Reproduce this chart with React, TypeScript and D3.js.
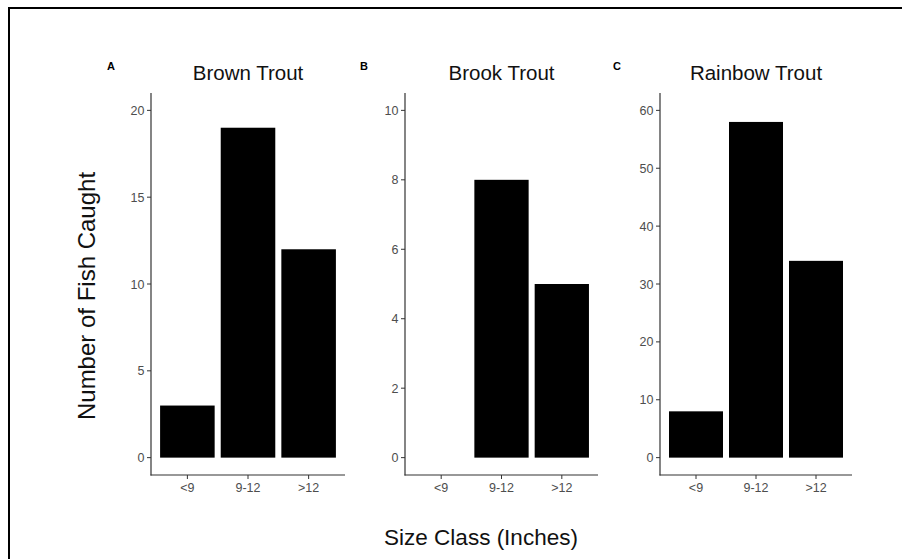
import React from "react";
import * as d3 from "d3";

// Size classes shared by every panel
const sizeClasses = ["<9", "9-12", ">12"];

// Catch counts per species, in size-class order
const brownCounts = [3, 19, 12];
const brookCounts = [0, 8, 5];
const rainbowCounts = [8, 58, 34];

// Y tick values per species
const brownTicks = [0, 5, 10, 15, 20];
const brookTicks = [0, 2, 4, 6, 8, 10];
const rainbowTicks = [0, 10, 20, 30, 40, 50, 60];

// Y limits (before ggplot-style 5% expansion)
const brownLimit = 20;
const brookLimit = 10;
const rainbowLimit = 60;

const panels = [
  { tag: "A", title: "Brown Trout", counts: brownCounts, ticks: brownTicks, limit: brownLimit, left: 151, right: 345, tagX: 107 },
  { tag: "B", title: "Brook Trout", counts: brookCounts, ticks: brookTicks, limit: brookLimit, left: 405, right: 598, tagX: 360 },
  { tag: "C", title: "Rainbow Trout", counts: rainbowCounts, ticks: rainbowTicks, limit: rainbowLimit, left: 660, right: 852, tagX: 613 },
];

const W = 902;
const H = 559;
const plotTop = 93;
const plotBottom = 475;
const font = "'Liberation Sans', Arial, Helvetica, sans-serif";
const tickColor = "#4d4d4d";
const axisColor = "#333333";

function Panel({ p }: { p: (typeof panels)[number] }) {
  const pad = p.limit * 0.05;
  const y = d3.scaleLinear().domain([-pad, p.limit + pad]).range([plotBottom, plotTop]);
  // Discrete x with 0.6 unit padding on each side, bars 0.9 wide
  const unit = (p.right - p.left) / (sizeClasses.length - 1 + 1.2);
  const x = d3
    .scalePoint<string>()
    .domain(sizeClasses)
    .range([p.left + 0.6 * unit, p.right - 0.6 * unit]);
  const barW = 0.9 * unit;
  const cx = (p.left + p.right) / 2;

  return (
    <g>
      <text x={p.tagX} y={70} fontFamily={font} fontWeight="bold" fontSize={11} fill="#000">
        {p.tag}
      </text>
      <text x={cx} y={80} textAnchor="middle" fontFamily={font} fontSize={20.5} fill="#111">
        {p.title}
      </text>
      {p.counts.map((c, i) =>
        c > 0 ? (
          <rect
            key={i}
            x={(x(sizeClasses[i]) as number) - barW / 2}
            y={y(c)}
            width={barW}
            height={y(0) - y(c)}
            fill="#000"
          />
        ) : null
      )}
      {/* y axis */}
      <line x1={p.left} x2={p.left} y1={plotTop} y2={plotBottom + 0.5} stroke={axisColor} strokeWidth={1.2} />
      {p.ticks.map((t) => (
        <g key={t}>
          <line x1={p.left - 4} x2={p.left} y1={y(t)} y2={y(t)} stroke={axisColor} strokeWidth={1} />
          <text
            x={p.left - 6.5}
            y={y(t)}
            dy="0.36em"
            textAnchor="end"
            fontFamily={font}
            fontSize={12.5}
            fill={tickColor}
          >
            {t}
          </text>
        </g>
      ))}
      {/* x axis */}
      <line x1={p.left - 0.5} x2={p.right} y1={plotBottom} y2={plotBottom} stroke={axisColor} strokeWidth={1.2} />
      {sizeClasses.map((s) => (
        <g key={s}>
          <line x1={x(s)} x2={x(s)} y1={plotBottom} y2={plotBottom + 4} stroke={axisColor} strokeWidth={1} />
          <text x={x(s)} y={492} textAnchor="middle" fontFamily={font} fontSize={12.5} fill={tickColor}>
            {s}
          </text>
        </g>
      ))}
    </g>
  );
}

export default function App() {
  return (
    <svg
      width={W}
      height={H}
      style={{ position: "absolute", left: 0, top: 0, background: "#fff" }}
    >
      <rect x={0} y={0} width={W} height={H} fill="#fff" />
      {/* outer frame, clipped at the right and bottom */}
      <line x1={8} x2={W} y1={8} y2={8} stroke="#000" strokeWidth={2} />
      <line x1={9} x2={9} y1={7} y2={H} stroke="#000" strokeWidth={2} />
      {panels.map((p) => (
        <Panel key={p.tag} p={p} />
      ))}
      <text
        transform={`translate(95, 296) rotate(-90)`}
        textAnchor="middle"
        fontFamily={font}
        fontSize={24}
        fill="#111"
      >
        Number of Fish Caught
      </text>
      <text x={481} y={545} textAnchor="middle" fontFamily={font} fontSize={22.5} fill="#111">
        Size Class (Inches)
      </text>
    </svg>
  );
}
